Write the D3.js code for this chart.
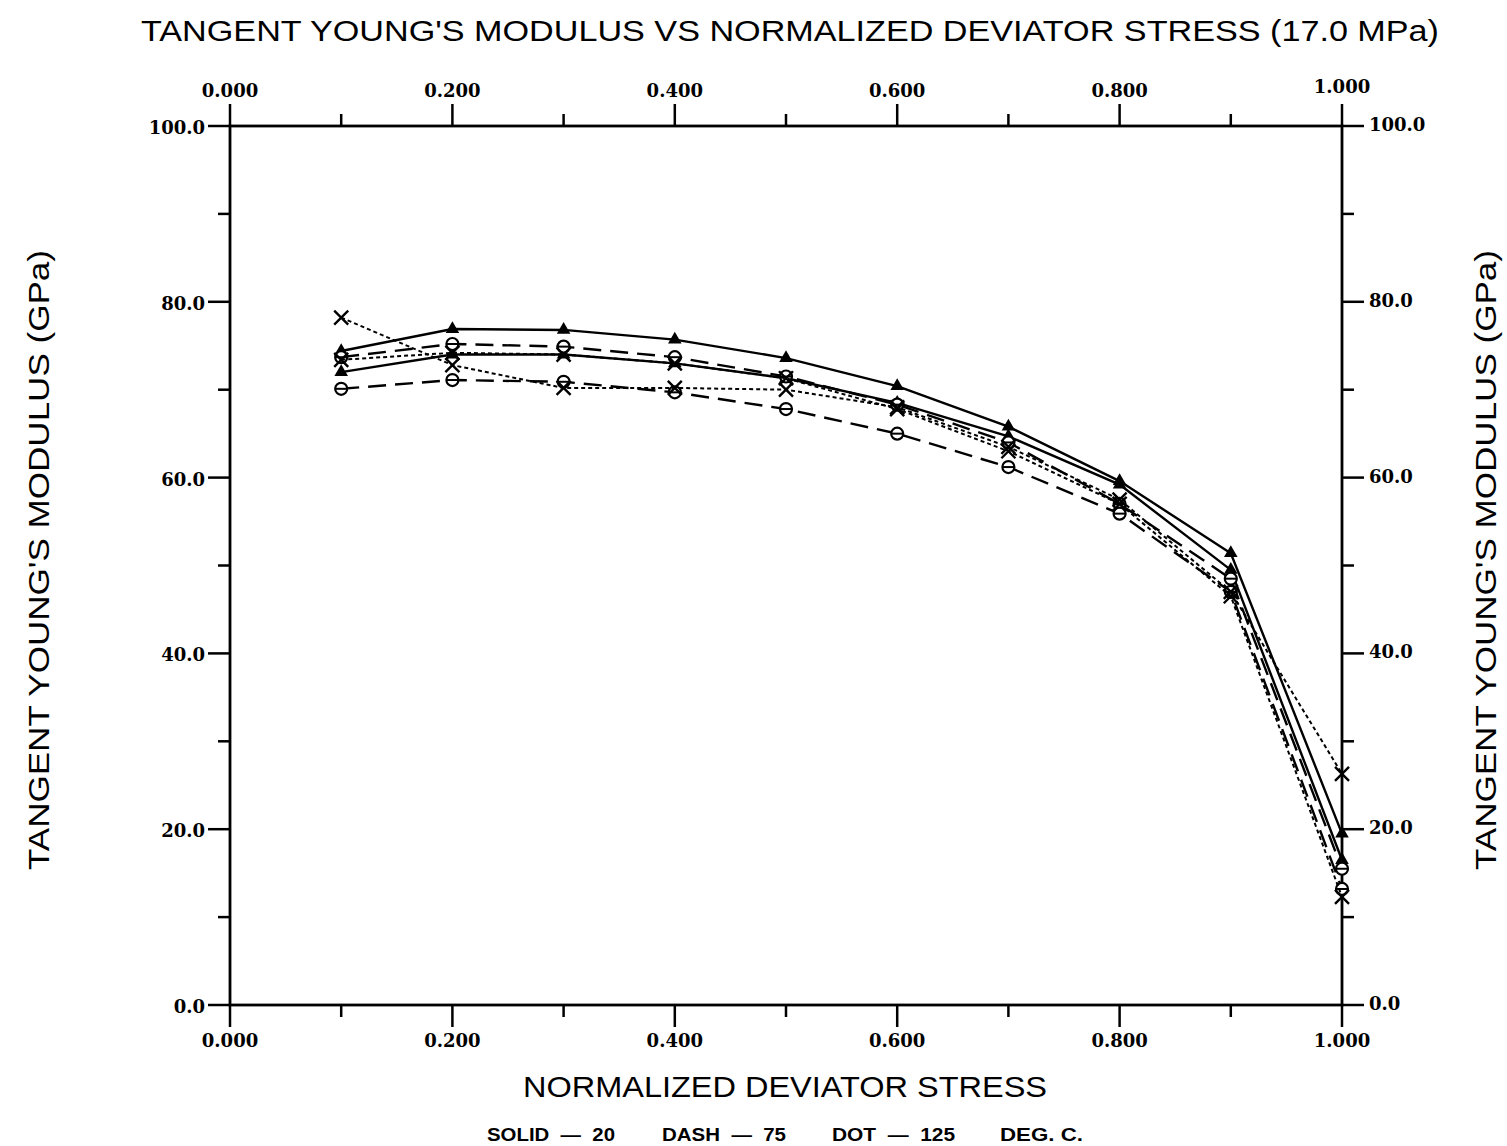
<!DOCTYPE html>
<html>
<head>
<meta charset="utf-8">
<script src="https://cdn.jsdelivr.net/npm/d3@7"></script>
<style>
  body { margin: 0; background: #fff; }
  svg { display: block; }
</style>
</head>
<body>
<div id="chart"></div>
<script>
// normalized deviator stress (x)
const stress = [0.1, 0.2, 0.3, 0.4, 0.5, 0.6, 0.7, 0.8, 0.9, 1.0];

// tangent Young's modulus, GPa
const solidA = [74.4, 76.9, 76.8, 75.7, 73.6, 70.4, 65.8, 59.6, 51.4, 19.5];
const solidB = [72.0, 74.0, 74.0, 73.0, 71.3, 68.5, 64.7, 59.2, 49.5, 16.5];
const dashA  = [73.7, 75.2, 74.9, 73.7, 71.5, 68.3, 64.0, 57.0, 48.5, 15.5];
const dashB  = [70.1, 71.1, 70.9, 69.7, 67.8, 65.0, 61.2, 55.9, 47.0, 13.2];
const dotA   = [78.2, 72.8, 70.2, 70.2, 70.0, 68.0, 63.5, 57.5, 47.0, 26.3];
const dotB   = [73.4, 74.2, 74.0, 73.0, 71.3, 67.8, 63.0, 57.0, 46.5, 12.3];

const xTicks = [0, 0.2, 0.4, 0.6, 0.8, 1.0];
const yTicks = [0, 20, 40, 60, 80, 100];
const legendItems = ["SOLID\u00a0\u00a0\u2014\u00a0\u00a020", "DASH\u00a0\u00a0\u2014\u00a0\u00a075",
	"DOT\u00a0\u00a0\u2014\u00a0\u00a0125", "DEG.\u00a0C."];

const series = [
	{ values: solidA, dash: null, marker: "tri" },
	{ values: solidB, dash: null, marker: "tri" },
	{ values: dashA, dash: "18,9", marker: "circle" },
	{ values: dashB, dash: "18,9", marker: "circle" },
	{ values: dotA, dash: "4,3", marker: "x" },
	{ values: dotB, dash: "4,3", marker: "x" }
];

const W = 1507, H = 1146;
const pLeft = 230, pRight = 1342, pTop = 126, pBottom = 1005;

const svg = d3.select("#chart").append("svg")
	.attr("width", W)
	.attr("height", H)
	.attr("viewBox", [0, 0, W, H]);

const x = d3.scaleLinear().domain([0, 1]).range([pLeft, pRight]);
const y = d3.scaleLinear().domain([0, 100]).range([pBottom, pTop]);

const tickFont = "bold 18px 'DejaVu Serif', 'Liberation Serif', serif";

// frame
svg.append("rect")
	.attr("x", pLeft).attr("y", pTop)
	.attr("width", pRight - pLeft).attr("height", pBottom - pTop)
	.attr("fill", "none").attr("stroke", "#000").attr("stroke-width", 2.8);

// axes (outward ticks, major every 0.2 / 20, minor in between)
const xMinor = d3.range(0, 1.0001, 0.1);
const yMinor = d3.range(0, 100.001, 10);
const isMajorX = v => Math.abs(v * 5 - Math.round(v * 5)) < 1e-6;
const isMajorY = v => Math.abs(v / 20 - Math.round(v / 20)) < 1e-6;

function addAxis(pos, scale, ticks, majorTest, sign, horizontal) {
	const g = svg.append("g")
		.attr("transform", horizontal ? `translate(0,${pos})` : `translate(${pos},0)`);
	g.selectAll("line")
		.data(ticks)
		.join("line")
		.attr(horizontal ? "x1" : "y1", d => scale(d))
		.attr(horizontal ? "x2" : "y2", d => scale(d))
		.attr(horizontal ? "y1" : "x1", 0)
		.attr(horizontal ? "y2" : "x2", d => sign * (majorTest(d) ? 22 : 12))
		.attr("stroke", "#000")
		.attr("stroke-width", 2.5);
	return g;
}

addAxis(pBottom, x, xMinor, isMajorX, 1, true);
addAxis(pTop, x, xMinor, isMajorX, -1, true);
addAxis(pLeft, y, yMinor, isMajorY, -1, false);
addAxis(pRight, y, yMinor, isMajorY, 1, false);

// tick labels
svg.append("g").selectAll("text")
	.data(xTicks)
	.join("text")
	.attr("x", d => x(d))
	.attr("y", pBottom + 42)
	.attr("text-anchor", "middle")
	.style("font", tickFont)
	.text(d => d.toFixed(3));

svg.append("g").selectAll("text")
	.data(xTicks)
	.join("text")
	.attr("x", d => x(d))
	.attr("y", d => d === 1 ? pTop - 33 : pTop - 29)
	.attr("text-anchor", "middle")
	.style("font", tickFont)
	.text(d => d.toFixed(3));

svg.append("g").selectAll("text")
	.data(yTicks)
	.join("text")
	.attr("x", pLeft - 25)
	.attr("y", d => y(d) + 8)
	.attr("text-anchor", "end")
	.style("font", tickFont)
	.text(d => d.toFixed(1));

svg.append("g").selectAll("text")
	.data(yTicks)
	.join("text")
	.attr("x", pRight + 27)
	.attr("y", d => y(d) + 5)
	.attr("text-anchor", "start")
	.style("font", tickFont)
	.text(d => d.toFixed(1));

// series lines
const line = d3.line()
	.x((d, i) => x(stress[i]))
	.y(d => y(d));

const plot = svg.append("g");

series.forEach(s => {
	plot.append("path")
		.datum(s.values)
		.attr("d", line)
		.attr("fill", "none")
		.attr("stroke", "#000")
		.attr("stroke-width", s.dash === "4,3" ? 2 : 2.4)
		.attr("stroke-dasharray", s.dash);

	const m = plot.append("g")
		.selectAll("g")
		.data(s.values)
		.join("g")
		.attr("transform", (d, i) => `translate(${x(stress[i])},${y(d)})`);

	if (s.marker === "tri") {
		m.append("path")
			.attr("d", d3.symbol(d3.symbolTriangle, 80)())
			.attr("fill", "#000");
	} else if (s.marker === "circle") {
		m.append("circle")
			.attr("r", 6)
			.attr("fill", "#fff")
			.attr("stroke", "#000")
			.attr("stroke-width", 2.2);
		m.append("line")
			.attr("x1", -6).attr("x2", 6)
			.attr("stroke", "#000").attr("stroke-width", 2);
	} else {
		m.append("path")
			.attr("d", "M-7,-7L7,7M-7,7L7,-7")
			.attr("stroke", "#000")
			.attr("stroke-width", 2.4);
	}
});

// titles
const labelFont = "'Liberation Sans', 'DejaVu Sans', sans-serif";

svg.append("text")
	.attr("x", 790).attr("y", 41)
	.attr("text-anchor", "middle")
	.attr("textLength", 1298)
	.attr("lengthAdjust", "spacingAndGlyphs")
	.style("font-family", labelFont)
	.style("font-size", "30px")
	.text("TANGENT YOUNG'S MODULUS VS NORMALIZED DEVIATOR STRESS (17.0 MPa)");

svg.append("text")
	.attr("x", 785).attr("y", 1097)
	.attr("text-anchor", "middle")
	.attr("textLength", 524)
	.attr("lengthAdjust", "spacingAndGlyphs")
	.style("font-family", labelFont)
	.style("font-size", "30px")
	.text("NORMALIZED DEVIATOR STRESS");

svg.append("text")
	.attr("transform", "translate(49,560) rotate(-90)")
	.attr("text-anchor", "middle")
	.attr("textLength", 620)
	.attr("lengthAdjust", "spacingAndGlyphs")
	.style("font-family", labelFont)
	.style("font-size", "30px")
	.text("TANGENT YOUNG'S MODULUS (GPa)");

svg.append("text")
	.attr("transform", "translate(1496,560) rotate(-90)")
	.attr("text-anchor", "middle")
	.attr("textLength", 620)
	.attr("lengthAdjust", "spacingAndGlyphs")
	.style("font-family", labelFont)
	.style("font-size", "30px")
	.text("TANGENT YOUNG'S MODULUS (GPa)");

// legend line under the x title
const legendX = [487, 662, 832, 1000];
const legendW = [128, 124, 123, 83];
svg.append("g").selectAll("text")
	.data(legendItems)
	.join("text")
	.attr("x", (d, i) => legendX[i])
	.attr("y", 1141)
	.attr("textLength", (d, i) => legendW[i])
	.attr("lengthAdjust", "spacingAndGlyphs")
	.style("font-family", labelFont)
	.style("font-weight", "bold")
	.style("font-size", "18px")
	.text(d => d);
</script>
</body>
</html>
